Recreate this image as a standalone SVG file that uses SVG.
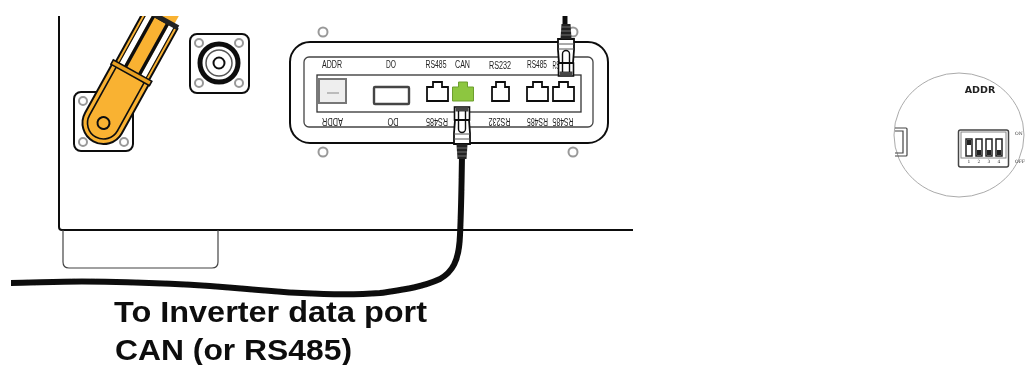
<svg xmlns="http://www.w3.org/2000/svg" xmlns:xlink="http://www.w3.org/1999/xlink" width="1025" height="365" viewBox="0 0 1025 365">
<style>
.k{fill:none;stroke:#111;stroke-width:2}
.o{fill:#f9b233;stroke:#111;stroke-width:2}
.sc{fill:#fff;stroke:#999;stroke-width:2}
.sq{fill:#fff;stroke:#111;stroke-width:2}
.t{font-family:"Liberation Sans",sans-serif;font-size:10px;fill:#222;text-anchor:middle}
.big{font-family:"Liberation Sans",sans-serif;font-weight:700;font-size:29px;fill:#111}
.port{fill:#fff;stroke:#111;stroke-width:1.8}
.slot{fill:#fff;stroke:#222;stroke-width:1.5}
.tiny{font-family:"DejaVu Serif",serif;font-size:4.5px;fill:#333}
</style>
<defs>
<path id="rj" d="M0,19V5H6V0H15V5H21V19Z"/>
<path id="rjn" d="M0,19V5H4V0H13V5H17V19Z"/>
<g id="plug">
<rect x="-7.500" y="0" width="15" height="13" fill="#fff" stroke="#111" stroke-width="1.600"/>
<rect x="-6.500" y="1" width="13" height="3.500" fill="#444"/>
<path d="M-7,13L-8,26V37H8V26L7,13Z" fill="#fff" stroke="#111" stroke-width="1.800"/>
<path d="M-3.500,4V22A3.500,3.500 0 0 0 3.500,22V4" fill="none" stroke="#111" stroke-width="1.400"/>
<path d="M-8,27L8,27M-8,32H8" stroke="#555" stroke-width="1"/>
<path d="M-5.500,37H5.500L4.500,52H-4.500Z" fill="#222"/>
<path d="M-5,41H5M-5,45H5M-4.500,49H4.500" stroke="#888" stroke-width="0.800"/>
</g>
<clipPath id="topclip"><rect x="0" y="16" width="640" height="349"/></clipPath>
<filter id="soft" x="0" y="0" width="100%" height="100%"><feGaussianBlur stdDeviation="0.35"/></filter>
</defs>

<g filter="url(#soft)">
<g id="enclosure">
<path class="k" d="M59,16V227Q59,230 62,230H633"/>
<path d="M63,230V262Q63,268 69,268H212Q218,268 218,262V230" fill="none" stroke="#444" stroke-width="1.200"/>
</g>

<g id="terminal-lower">
<rect class="sq" x="74" y="92" width="59" height="59" rx="7"/>
<circle class="sc" cx="83" cy="101" r="4"/><circle class="sc" cx="83" cy="142" r="4"/><circle class="sc" cx="124" cy="142" r="4"/>
</g>
<g id="terminal-upper">
<rect class="sq" x="190" y="34" width="59" height="59" rx="7"/>
<circle class="sc" cx="199" cy="43" r="4"/><circle class="sc" cx="239" cy="43" r="4"/><circle class="sc" cx="199" cy="83" r="4"/><circle class="sc" cx="239" cy="83" r="4"/>
<circle cx="219" cy="63" r="19" fill="#fff" stroke="#111" stroke-width="5"/>
<circle cx="219" cy="63" r="13" fill="none" stroke="#555" stroke-width="1.500"/>
<circle cx="219" cy="63" r="5.500" fill="#fff" stroke="#111" stroke-width="2"/>
</g>
<g id="arm" clip-path="url(#topclip)">
<g transform="translate(103.500,123) rotate(29)">
<rect x="-6" y="-134" width="20" height="14" fill="#f9b233"/>
<rect x="-19" y="-118" width="38" height="60" class="o"/>
<rect x="-15" y="-118" width="5.500" height="58" fill="#fff"/>
<rect x="9.500" y="-118" width="5.500" height="58" fill="#fff"/>
<path d="M-15.500,-118V-60M15.500,-118V-60" stroke="#111" stroke-width="1.200"/>
<path d="M-8,-118V-60M8,-118V-60" stroke="#111" stroke-width="3.400"/>
<rect x="-19" y="-122" width="38" height="5" fill="#222"/>
<path class="o" d="M-21,-56V0A21,21 0 0 0 21,0V-56Z"/>
<path d="M-16,-55V0A16,16 0 0 0 16,0V-55" fill="none" stroke="#111" stroke-width="1.600"/>
<rect x="-22" y="-60" width="44" height="5" fill="#e8a020" stroke="#111" stroke-width="1.600"/>
<circle cx="0" cy="0" r="6" fill="#f9b233" stroke="#111" stroke-width="2"/>
</g>
</g>

<g id="panel">
<circle class="sc" cx="323" cy="32" r="4.500"/><circle class="sc" cx="323" cy="152" r="4.500"/>
<circle class="sc" cx="573" cy="32" r="4.500"/><circle class="sc" cx="573" cy="152" r="4.500"/>
<rect x="290" y="42" width="318" height="101" rx="20" fill="#fff" stroke="#111" stroke-width="2"/>
<rect x="304" y="57" width="289" height="70" rx="5" fill="#fff" stroke="#444" stroke-width="1.300"/>
<rect x="317" y="75" width="264" height="37" fill="#fff" stroke="#333" stroke-width="1.300"/>
<rect x="319" y="79" width="27" height="24" fill="#eee" stroke="#777" stroke-width="2"/>
<rect x="327" y="92" width="12" height="2" fill="#bbb"/>
<rect x="374" y="87" width="35" height="17" rx="1" fill="#fff" stroke="#444" stroke-width="2.400"/>
<use xlink:href="#rj" class="port" x="427" y="82"/>
<use xlink:href="#rj" fill="#8dc63f" stroke="#6d9e2f" stroke-width="1" x="452.500" y="82"/>
<use xlink:href="#rjn" class="port" x="492" y="82"/>
<use xlink:href="#rj" class="port" x="527" y="82"/>
<use xlink:href="#rj" class="port" x="553" y="82"/>
<text class="t" x="332" y="68" textLength="20" lengthAdjust="spacingAndGlyphs">ADDR</text>
<text class="t" x="391" y="68" textLength="10" lengthAdjust="spacingAndGlyphs">DO</text>
<text class="t" x="436" y="68" textLength="21" lengthAdjust="spacingAndGlyphs">RS485</text>
<text class="t" x="462.500" y="68" textLength="15" lengthAdjust="spacingAndGlyphs">CAN</text>
<text class="t" x="500" y="69" textLength="22" lengthAdjust="spacingAndGlyphs">RS232</text>
<text class="t" x="537" y="68" textLength="20" lengthAdjust="spacingAndGlyphs">RS485</text>
<text class="t" x="556" y="69" textLength="7" lengthAdjust="spacingAndGlyphs">RS</text>
<text class="t" transform="rotate(180 332.500 121.500)" x="332.500" y="125" textLength="21" lengthAdjust="spacingAndGlyphs">ADDR</text>
<text class="t" transform="rotate(180 393 121.500)" x="393" y="125" textLength="11" lengthAdjust="spacingAndGlyphs">DO</text>
<text class="t" transform="rotate(180 437 121.500)" x="437" y="125" textLength="22" lengthAdjust="spacingAndGlyphs">RS485</text>
<text class="t" transform="rotate(180 499.500 121.500)" x="499.500" y="125" textLength="22" lengthAdjust="spacingAndGlyphs">RS232</text>
<text class="t" transform="rotate(180 537.500 121.500)" x="537.500" y="125" textLength="21" lengthAdjust="spacingAndGlyphs">RS485</text>
<text class="t" transform="rotate(180 563 121.500)" x="563" y="125" textLength="21" lengthAdjust="spacingAndGlyphs">RS485</text>
</g>

<g id="connectors">
<path d="M462,156C461.500,190 461,215 460,235C459,262 452,272 440,279C420,288 400,290 380,293C340,296 290,293 247,289C205,285 150,282 82,281.500C55,281.500 30,283 11,283" fill="none" stroke="#111" stroke-width="6"/>
<path d="M565,16V26" fill="none" stroke="#111" stroke-width="5"/>
<use xlink:href="#plug" transform="translate(462,107)"/>
<use xlink:href="#plug" transform="translate(566,76) scale(1,-1)"/>
</g>

<g id="label">
<text class="big" x="114" y="322" textLength="313" lengthAdjust="spacingAndGlyphs">To Inverter data port</text>
<text class="big" x="115" y="360" textLength="237" lengthAdjust="spacingAndGlyphs">CAN (or RS485)</text>
</g>

<g id="addr-detail">
<ellipse cx="959" cy="135" rx="65" ry="62" fill="#fff" stroke="#aaa" stroke-width="1"/>
<path d="M895,128H906Q907,128 907,129V155Q907,156 906,156H895M895,131H903V153H895" fill="none" stroke="#444" stroke-width="1.200"/>
<text x="980" y="93" font-family="DejaVu Sans, sans-serif" font-weight="700" font-size="9.500" fill="#222" text-anchor="middle">ADDR</text>
<rect x="958.500" y="130" width="50" height="37" rx="2" fill="#fff" stroke="#444" stroke-width="1.500"/>
<rect x="961" y="132" width="45" height="26" fill="#fff" stroke="#888" stroke-width="1"/>
<rect class="slot" x="966" y="139" width="6" height="17"/><rect class="slot" x="976" y="139" width="6" height="17"/><rect class="slot" x="986" y="139" width="6" height="17"/><rect class="slot" x="996" y="139" width="6" height="17"/>
<rect x="967" y="140" width="4" height="5" fill="#222"/><rect x="977" y="150" width="4" height="5" fill="#222"/><rect x="987" y="150" width="4" height="5" fill="#222"/><rect x="997" y="150" width="4" height="5" fill="#222"/>
<text class="tiny" x="967.500" y="163">1</text><text class="tiny" x="977.500" y="163">2</text><text class="tiny" x="987.500" y="163">3</text><text class="tiny" x="997.500" y="163">4</text>
<text class="tiny" x="1015" y="135">ON</text><text class="tiny" x="1015" y="163">OFF</text>
</g>
</g>
</svg>
